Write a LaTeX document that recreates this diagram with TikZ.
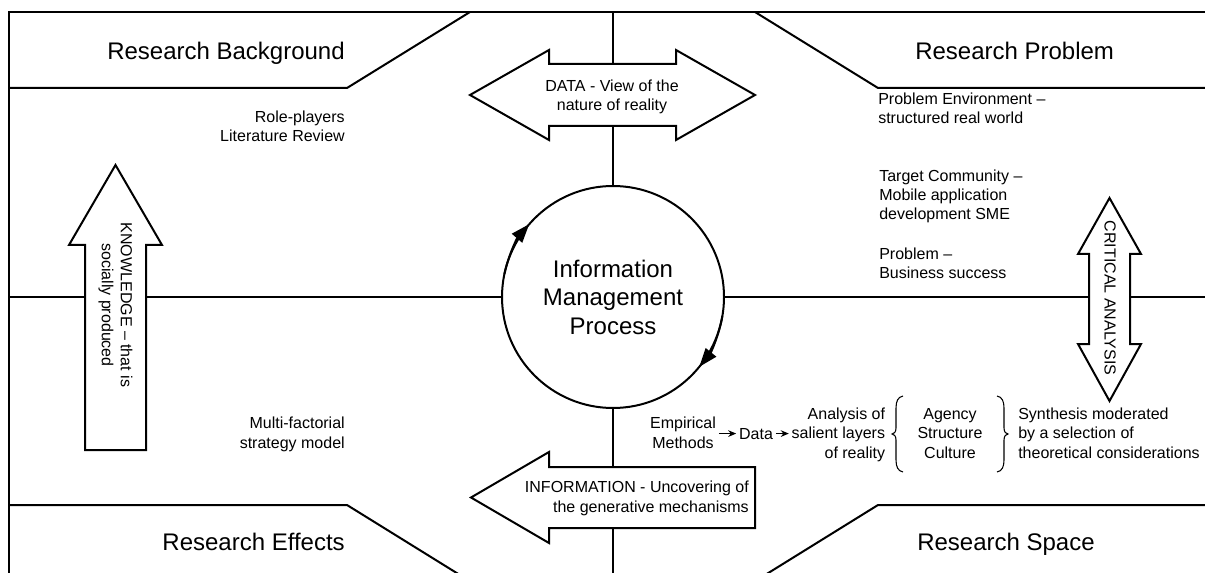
\documentclass[tikz,border=0pt]{standalone}
\usepackage{fontspec}
\setmainfont{Liberation Sans}
\usetikzlibrary{arrows.meta,calc}
\begin{document}
\begin{tikzpicture}[x=0.75pt,y=-0.75pt,
  rule/.style={line width=1.5pt, line join=miter},
  arrowbox/.style={line width=1.5pt, fill=white, line join=miter},
  heading/.style={font=\fontsize{18}{21.6}\selectfont, inner sep=0pt},
  note/.style={font=\fontsize{12}{14.3}\selectfont, inner sep=0pt},
  flow/.style={line width=0.9pt, -{Stealth[length=6pt,width=5pt]}},
  cycletip/.style={line width=1.5pt, -{Triangle[length=14pt,width=10pt]}},
  bracket/.style={line width=0.8pt},
]
\fill[white] (0,0) rectangle (1205,573);
\useasboundingbox (0,0) rectangle (1205,573);

% outer frame and the four corner bands
\draw[rule] (9,580) -- (9,12) -- (1210,12);
\draw[rule] (9,88) -- (347,88) -- (470,12);
\draw[rule] (755,12) -- (878,88) -- (1210,88);
\draw[rule] (9,505) -- (347,505) -- (468,580);
\draw[rule] (1210,505) -- (878,505) -- (757,580);

% central process
\node[circle, draw, line width=1.5pt, fill=white, minimum size=166.5pt, inner sep=0pt,
      align=center, font=\fontsize{18}{21.4}\selectfont] (imp) at (613,297)
      {Information\\Management\\Process};
\draw[cycletip] (imp.center) ++(192:111) arc[start angle=192, end angle=221, radius=111];
\draw[cycletip] (imp.center) ++(10:111) arc[start angle=10, end angle=39, radius=111];

% DATA double arrow
\draw[arrowbox] (470,95) -- (549,50) -- (549,64) -- (676,64) -- (676,50) -- (755,95)
  -- (676,140) -- (676,126) -- (549,126) -- (549,140) -- cycle;
\coordinate (dataTop) at (613,64);
\coordinate (dataBot) at (613,126);
\node[note, align=center, anchor=base] (datatxt) at (612,111) {DATA - View of the\\nature of reality};

% INFORMATION arrow
\draw[arrowbox] (471,497.5) -- (549,452) -- (549,467) -- (755,467) -- (755,528)
  -- (549,528) -- (549,543) -- cycle;
\coordinate (infoTop) at (613,467);
\coordinate (infoBot) at (613,528);
\node[note, align=right, anchor=base east] (infotxt) at (749,512)
  {INFORMATION - Uncovering of\\the generative mechanisms};

% KNOWLEDGE arrow
\draw[arrowbox] (85,450) -- (85,245) -- (69,245) -- (115.5,165) -- (162,245)
  -- (146,245) -- (146,450) -- cycle;
\coordinate (knowL) at (85,297);
\coordinate (knowR) at (146,297);
\node[note, align=center, rotate=-90] (knowtxt) at (115.5,305)
  {KNOWLEDGE -- that is\\socially produced};

% CRITICAL ANALYSIS double arrow
\draw[arrowbox] (1109.5,198) -- (1141,254) -- (1130,254) -- (1130,344) -- (1141,344)
  -- (1109.5,401) -- (1078,344) -- (1089,344) -- (1089,254) -- (1078,254) -- cycle;
\coordinate (critL) at (1089,297);
\coordinate (critR) at (1130,297);
\node[note, rotate=-90] (crittxt) at (1110,298) {CRITICAL ANALYSIS};

% axes through the process
\coordinate (topMid) at (613,12);
\coordinate (botMid) at (613,580);
\coordinate (leftMid) at (9,297);
\coordinate (rightMid) at (1210,297);
\draw[rule] (topMid) -- (dataTop);
\draw[rule] (dataBot) -- (imp.north);
\draw[rule] (imp.south) -- (infoTop);
\draw[rule] (infoBot) -- (botMid);
\draw[rule] (leftMid) -- (knowL);
\draw[rule] (knowR) -- (imp.west);
\draw[rule] (imp.east) -- (critL);
\draw[rule] (critR) -- (rightMid);

% quadrant headings
\node[heading, anchor=base east] (bg) at (345,60) {Research Background};
\node[heading, anchor=base west] (pr) at (915,60) {Research Problem};
\node[heading, anchor=base east] (ef) at (345,550) {Research Effects};
\node[heading, anchor=base west] (sp) at (917,550) {Research Space};

% quadrant notes (anchored on the baseline of their last line)
\node[note, align=right, anchor=base east] (role) at (345,142) {Role-players\\Literature Review};
\node[note, align=left, anchor=base west] (env) at (878,124) {Problem Environment --\\structured real world};
\node[note, align=left, anchor=base west] (target) at (879,220) {Target Community --\\Mobile application\\development SME};
\node[note, align=left, anchor=base west] (prob) at (879,279) {Problem --\\Business success};
\node[note, align=right, anchor=base east] (multi) at (345,448) {Multi-factorial\\strategy model};

% research space chain
\node[note, align=center, anchor=base, inner sep=2pt] (emp) at (683,448) {Empirical\\Methods};
\node[note, anchor=base, inner sep=2pt] (data) at (756,439) {Data};
\node[note, align=right, anchor=base east, inner sep=2pt] (ana) at (888,458) {Analysis of\\salient layers\\of reality};
\node[note, align=center, anchor=base] (layers) at (950,458) {Agency\\Structure\\Culture};
\node[note, align=left, anchor=base west] (syn) at (1018,458) {Synthesis moderated\\by a selection of\\theoretical considerations};
\draw[flow] (data.west -| emp.east) -- (data.west);
\draw[flow] (data.east) -- (data.east -| ana.west);

% braces around the layers
\draw[bracket] (903,396) .. controls (898,397) and (896,401) .. (896,408) -- (896,428)
  .. controls (896,432) and (894,434) .. (892,434)
  .. controls (894,434) and (896,436) .. (896,440) -- (896,460)
  .. controls (896,467) and (898,471) .. (903,472);
\draw[bracket] (997,396) .. controls (1002,397) and (1004,401) .. (1004,408) -- (1004,428)
  .. controls (1004,432) and (1006,434) .. (1008,434)
  .. controls (1006,434) and (1004,436) .. (1004,440) -- (1004,460)
  .. controls (1004,467) and (1002,471) .. (997,472);
\end{tikzpicture}
\end{document}
